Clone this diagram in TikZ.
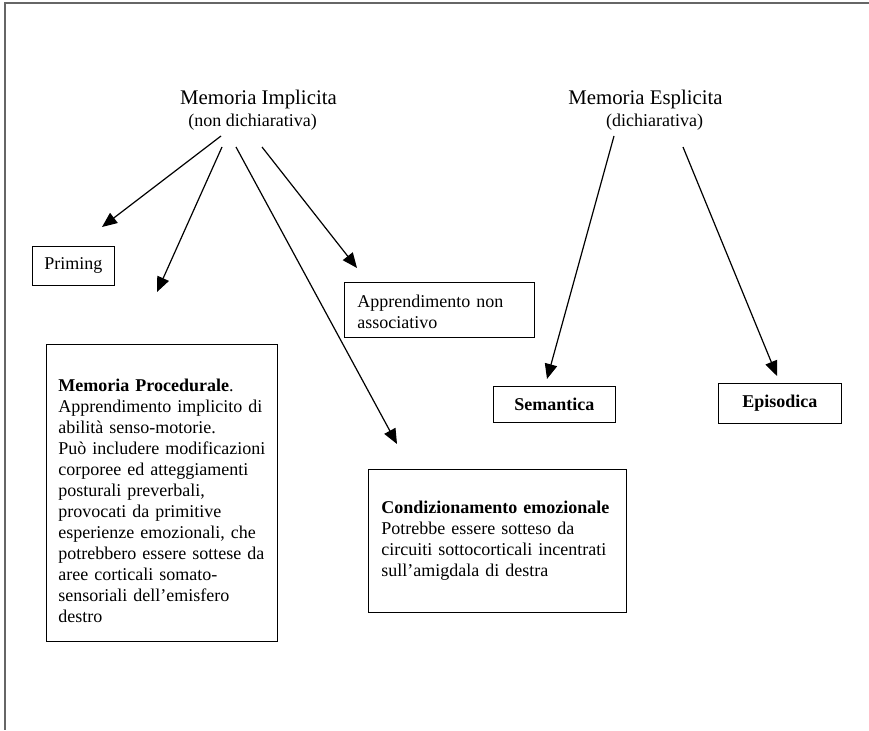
\documentclass[tikz,border=0pt]{standalone}
\usepackage{fontspec}
\setmainfont{Liberation Serif}
\usetikzlibrary{arrows.meta,positioning}
\tikzset{
  box/.style={draw, line width=0.9pt, align=left, anchor=north west, inner xsep=12pt, inner ysep=0pt, font=\fontsize{18}{21}\selectfont},
  smallbox/.style={draw, line width=0.9pt, anchor=north west, inner sep=0pt, font=\fontsize{18}{21}\selectfont},
  titolo/.style={anchor=base, font=\fontsize{20.8}{24}\selectfont},
  sottotitolo/.style={anchor=base, font=\fontsize{18}{21}\selectfont},
  freccia/.style={line width=1.2pt, -{Triangle[length=15pt,width=12.5pt]}}
}
\newcommand{\sopra}[1]{\rule{0pt}{#1pt}}
\newcommand{\sotto}[1]{\rule[-#1pt]{0pt}{#1pt}}

\begin{document}
\begin{tikzpicture}[x=1pt,y=-1pt]
	\useasboundingbox (0,0) rectangle (869,730);
	\draw[gray!80!black, line width=1.5pt] (869,3) -- (5,3) -- (5,730);
	
	% titoli
	\node[titolo] (impl) at (258.5,105) {Memoria Implicita};
	\node[sottotitolo] (implsub) at (252.5,127) {(non dichiarativa)};
	\node[titolo] (espl) at (645.5,105) {Memoria Esplicita};
	\node[sottotitolo] (esplsub) at (654.5,127) {(dichiarativa)};
	
	% riquadri
	\node[smallbox, minimum width=82pt, minimum height=39pt] (priming) at (32,246) {Priming};
	\node[box, inner xsep=13pt, text width=164pt] (nonass) at (344,282)
	{\sopra{25}Apprendimento non\\associativo\sotto{9}};
	\node[box, text width=207pt] (proc) at (46,344)
	{\sopra{47}\textbf{Memoria Procedurale}.\\Apprendimento implicito di\\abilità senso-motorie.\\Può includere modificazioni\\corporee ed atteggiamenti\\posturali preverbali,\\provocati da primitive\\esperienze emozionali, che\\potrebbero essere sottese da\\aree corticali somato-\\sensoriali dell’emisfero\\destro\sotto{19}};
	\node[box, inner xsep=13pt, text width=232pt] (cond) at (368,469)
	{\sopra{44}\textbf{Condizionamento emozionale}\\Potrebbe essere sotteso da\\circuiti sottocorticali incentrati\\sull’amigdala di destra\sotto{36}};
	\node[smallbox, minimum width=122pt, minimum height=36pt, font=\fontsize{18}{21}\selectfont\bfseries] (sem) at (493,386) {Semantica};
	\node[smallbox, minimum width=123pt, minimum height=40pt, font=\fontsize{18}{21}\selectfont\bfseries] (epi) at (718,383) {Episodica};
	
	% estremi delle frecce
	\coordinate (impA) at (221,136);
	\coordinate (impB) at (222,147);
	\coordinate (impC) at (236,147);
	\coordinate (impD) at (262,147);
	\coordinate (espA) at (614,136);
	\coordinate (espB) at (683,147);
	\coordinate (vPriming) at (102,227);
	\coordinate (vProc) at (157,292);
	\coordinate (vCond) at (397,444);
	\coordinate (vNonass) at (357,268);
	\coordinate (vSem) at (547,379);
	\coordinate (vEpi) at (777,376);
	
	\draw[freccia] (impA) -- (vPriming);
	\draw[freccia] (impB) -- (vProc);
	\draw[freccia] (impC) -- (vCond);
	\draw[freccia] (impD) -- (vNonass);
	\draw[freccia] (espA) -- (vSem);
	\draw[freccia] (espB) -- (vEpi);
\end{tikzpicture}
\end{document}
